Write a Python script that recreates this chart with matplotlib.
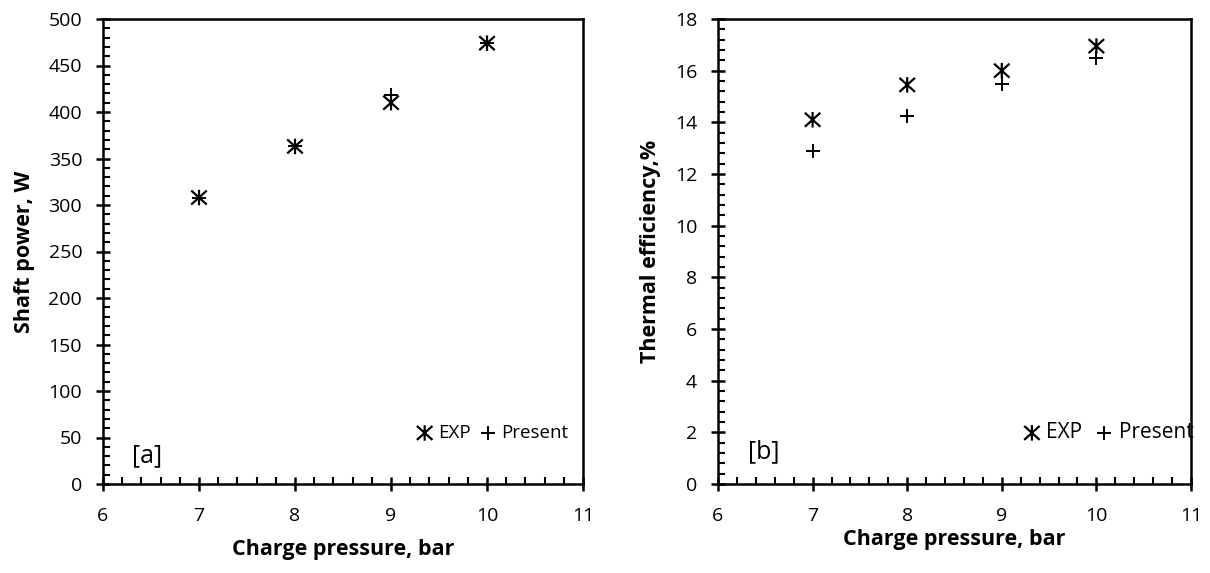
import matplotlib
matplotlib.use("Agg")
import matplotlib.pyplot as plt
from matplotlib.path import Path
from matplotlib.ticker import MultipleLocator, AutoMinorLocator

plt.rcParams['font.family'] = ['Open Sans', 'DejaVu Sans']

# data
pressure = [7, 8, 9, 10]
power_exp = [308, 363, 410, 474]
power_present = [308, 363, 418, 474]
eff_exp = [14.1, 15.45, 16.0, 16.95]
eff_present = [12.9, 14.25, 15.5, 16.5]

# asterisk marker: X plus a vertical bar
star = Path([(-1, -0.9), (1, 0.9), (-1, 0.9), (1, -0.9), (0, -1), (0, 1)],
            [Path.MOVETO, Path.LINETO, Path.MOVETO, Path.LINETO,
             Path.MOVETO, Path.LINETO])

fig = plt.figure(figsize=(12.1, 5.73), dpi=100)
ax1 = fig.add_axes([103 / 1210, 1 - 484 / 573, 480 / 1210, 465 / 573])
ax2 = fig.add_axes([718 / 1210, 1 - 484 / 573, 473 / 1210, 465 / 573])


def style(ax, ymax, ymajor, ylabel, tag, tag_xy, xlab_pad):
    ax.set_xlim(6, 11)
    ax.set_ylim(0, ymax)
    ax.xaxis.set_major_locator(MultipleLocator(1))
    ax.yaxis.set_major_locator(MultipleLocator(ymajor))
    ax.xaxis.set_minor_locator(AutoMinorLocator(5))
    ax.yaxis.set_minor_locator(AutoMinorLocator(5))
    ax.tick_params(which='major', direction='inout', length=10, width=1.8,
                   labelsize=14)
    ax.tick_params(axis='y', which='major', pad=10)
    ax.tick_params(axis='x', which='major', pad=11.5)
    ax.tick_params(which='minor', direction='in', length=5, width=1.5)
    for s in ax.spines.values():
        s.set_linewidth(1.8)
    ax.set_xlabel('Charge pressure, bar', fontsize=15.5, fontweight='bold',
                  labelpad=xlab_pad)
    ax.set_ylabel(ylabel, fontsize=15.5, fontweight='bold', labelpad=10)
    ax.text(tag_xy[0], tag_xy[1], tag, transform=ax.transAxes, fontsize=18,
            va='center')


ax1.scatter(pressure, power_exp, marker=star, s=125, c='none',
            edgecolors='black', linewidths=1.6, label='EXP')
ax1.scatter(pressure, power_present, marker='+', s=115, c='black',
            linewidths=1.4, label='Present')
style(ax1, 500, 50, 'Shaft power, W', '[a]', (0.06, 0.06), 10)
ax1.legend(loc='center left', bbox_to_anchor=(0.635, 0.11), ncol=2,
           frameon=False, fontsize=13.5, borderpad=0, handletextpad=0.3,
           columnspacing=0.55, handlelength=0.8)

ax2.scatter(pressure, eff_exp, marker=star, s=125, c='none',
            edgecolors='black', linewidths=1.6, label='EXP')
ax2.scatter(pressure, eff_present, marker='+', s=115, c='black',
            linewidths=1.4, label='Present')
style(ax2, 18, 2, 'Thermal efficiency,%', '[b]', (0.063, 0.07), 3)
ax2.legend(loc='center left', bbox_to_anchor=(0.624, 0.11), ncol=2,
           frameon=False, fontsize=15, borderpad=0, handletextpad=0.3,
           columnspacing=0.65, handlelength=0.8)

plt.savefig('out.png', dpi=100)
